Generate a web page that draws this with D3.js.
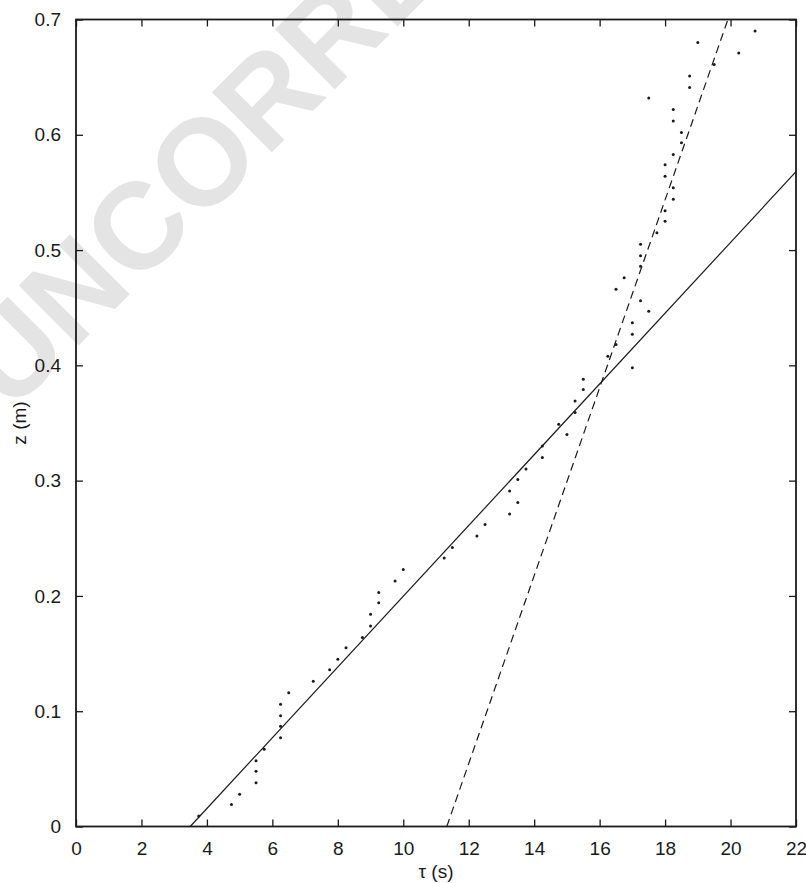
<!DOCTYPE html>
<html>
<head>
<meta charset="utf-8">
<script src="https://cdn.jsdelivr.net/npm/d3@7"></script>
<style>
  html, body { margin: 0; padding: 0; background: #fff; }
  svg { display: block; }
  text { font-family: "Liberation Sans", Arial, Helvetica, sans-serif; }
</style>
</head>
<body>
<svg id="chart" width="806" height="883"></svg>
<script>
// ---------- data ----------
const tau = [3.75, 4.75, 5.0, 5.5, 5.5, 5.5, 5.75, 6.25, 6.25, 6.25, 6.25, 6.5, 7.25, 7.75, 8.0, 8.25, 8.75, 9.0, 9.0, 9.25,
  9.25, 9.75, 10.0, 11.25, 11.5, 12.25, 12.5, 13.25, 13.5, 13.25, 13.5, 13.75, 14.25, 14.25, 15.0, 14.75, 15.25, 15.25, 15.5, 15.5,
  17.0, 16.25, 16.5, 17.0, 17.0, 17.5, 17.25, 16.5, 16.75, 17.25, 17.25, 17.25, 17.75, 18.0, 18.0, 18.25, 18.25, 18.0, 18.0, 18.25,
  18.5, 18.5, 18.25, 18.25, 17.5, 18.75, 18.75, 19.5, 20.25, 19.0, 20.75];
const z = [0.009, 0.019, 0.028, 0.038, 0.048, 0.057, 0.067, 0.077, 0.087, 0.096, 0.106, 0.116, 0.126, 0.136, 0.145, 0.155, 0.164, 0.174, 0.184, 0.194,
  0.203, 0.213, 0.223, 0.233, 0.242, 0.252, 0.262, 0.271, 0.281, 0.291, 0.301, 0.310, 0.320, 0.330, 0.340, 0.349, 0.359, 0.369, 0.379, 0.388,
  0.398, 0.408, 0.418, 0.427, 0.437, 0.447, 0.456, 0.466, 0.476, 0.486, 0.495, 0.505, 0.515, 0.525, 0.534, 0.544, 0.554, 0.564, 0.574, 0.583,
  0.593, 0.602, 0.612, 0.622, 0.632, 0.641, 0.651, 0.661, 0.671, 0.680, 0.690];
// fitted lines: endpoints [tau, z]
const solidFit = [[3.49, 0.0], [22.0, 0.568]];
const dashedFit = [[11.33, 0.0], [19.92, 0.7]];
const xTicks = [0, 2, 4, 6, 8, 10, 12, 14, 16, 18, 20, 22];
const yTicks = [0, 0.1, 0.2, 0.3, 0.4, 0.5, 0.6, 0.7];
const xLabel = "τ (s)";
const yLabel = "z (m)";
const watermark = "UNCORRECTED";

// ---------- layout ----------
const svg = d3.select("#chart");
const mLeft = 76, mRight = 796, mTop = 19.5, mBottom = 826.5;
const x = d3.scaleLinear().domain([0, 22]).range([mLeft, mRight]);
const y = d3.scaleLinear().domain([0, 0.7]).range([mBottom, mTop]);
const ink = "#1a1a1a";

// watermark
svg.append("text")
  .attr("transform", "translate(10,414) rotate(-45)")
  .attr("font-size", 123)
  .attr("font-weight", "bold")
  .attr("fill", "#e4e4e4")
  .text(watermark);

svg.append("defs").append("clipPath").attr("id", "plotclip")
  .append("rect").attr("x", mLeft).attr("y", mTop).attr("width", mRight - mLeft).attr("height", mBottom - mTop);

const plot = svg.append("g").attr("clip-path", "url(#plotclip)");
const line = d3.line().x(d => x(d[0])).y(d => y(d[1]));

plot.append("path").datum(solidFit).attr("d", line)
  .attr("fill", "none").attr("stroke", ink).attr("stroke-width", 1.2);
plot.append("path").datum(dashedFit).attr("d", line)
  .attr("fill", "none").attr("stroke", ink).attr("stroke-width", 1.2)
  .attr("stroke-dasharray", "8,5");

plot.selectAll("circle.pt").data(tau.map((t, i) => [t, z[i]])).enter()
  .append("circle").attr("class", "pt")
  .attr("cx", d => x(d[0])).attr("cy", d => y(d[1])).attr("r", 1.5).attr("fill", ink);

// axes (ticks inward on all four sides)
const tickLen = 7;
const fs = 19;
const axB = d3.axisBottom(x).tickValues(xTicks).tickSizeInner(-tickLen).tickSizeOuter(0).tickPadding(tickLen + 8).tickFormat(d3.format("d"));
const axT = d3.axisTop(x).tickValues(xTicks).tickSizeInner(-tickLen).tickSizeOuter(0).tickFormat("");
const axL = d3.axisLeft(y).tickValues(yTicks).tickSizeInner(-tickLen).tickSizeOuter(0).tickPadding(tickLen + 8).tickFormat(d => d === 0 ? "0" : d3.format(".1f")(d));
const axR = d3.axisRight(y).tickValues(yTicks).tickSizeInner(-tickLen).tickSizeOuter(0).tickFormat("");

function style(g) {
  g.select(".domain").remove();
  g.selectAll(".tick line").attr("stroke", ink).attr("stroke-width", 1.3);
  g.selectAll(".tick text").attr("fill", ink).attr("font-size", fs).attr("font-family", "Liberation Sans, Arial, sans-serif");
}
svg.append("g").attr("transform", `translate(0,${mBottom})`).call(axB).call(style);
svg.append("g").attr("transform", `translate(0,${mTop})`).call(axT).call(style);
svg.append("g").attr("transform", `translate(${mLeft},0)`).call(axL).call(style);
svg.append("g").attr("transform", `translate(${mRight},0)`).call(axR).call(style);

svg.append("rect").attr("x", mLeft).attr("y", mTop).attr("width", mRight - mLeft).attr("height", mBottom - mTop)
  .attr("fill", "none").attr("stroke", ink).attr("stroke-width", 1.8);

svg.append("text").attr("x", (mLeft + mRight) / 2).attr("y", 878).attr("text-anchor", "middle")
  .attr("font-size", fs).attr("fill", ink).text(xLabel);
svg.append("text").attr("transform", `translate(26,${(mTop + mBottom) / 2}) rotate(-90)`).attr("text-anchor", "middle")
  .attr("font-size", fs).attr("fill", ink).text(yLabel);
</script>
</body>
</html>
